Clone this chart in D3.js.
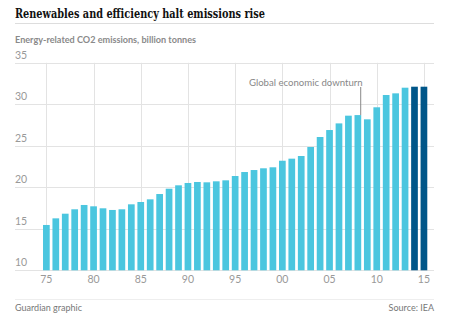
<!DOCTYPE html>
<html>
<head>
<meta charset="utf-8">
<script src="https://cdn.jsdelivr.net/npm/d3@7"></script>
<style>
  body { margin: 0; background: #fff; }
  svg { display: block; }
  .title { font-family: "DejaVu Serif", serif; font-weight: bold; font-size: 12.5px; fill: #111; }
  .sub { font-family: Lato, sans-serif; font-weight: bold; font-size: 9.6px; fill: #8a8a8a; }
  .tick-label { font-family: Lato, sans-serif; font-size: 10.5px; fill: #999; }
  .foot { font-family: Lato, sans-serif; font-size: 9px; fill: #777; }
  .note { font-family: Lato, sans-serif; font-size: 9.6px; fill: #888; }
</style>
</head>
<body>
<svg width="450" height="324"></svg>
<script>
(function() {

  var years = d3.range(1975, 2016);
  var emissions = [
    15.46, 16.26, 16.82, 17.35, 17.87, 17.71, 17.47, 17.27, 17.35, 17.95,
    18.23, 18.55, 19.19, 19.83, 20.24, 20.52, 20.64, 20.60, 20.72, 20.84,
    21.36, 21.84, 22.08, 22.29, 22.41, 23.20, 23.45, 23.77, 24.86, 26.06,
    26.90, 27.70, 28.63, 28.70, 28.19, 29.64, 31.12, 31.32, 32.00, 32.12,
    32.12
  ];
  var highlightYears = [2014, 2015];
  var yTicks = [10, 15, 20, 25, 30, 35];
  var xTicks = [1975, 1980, 1985, 1990, 1995, 2000, 2005, 2010, 2015];

  var data = years.map(function(y, i) { return {year: y, value: emissions[i]}; });

  var svg = d3.select('svg');
  var left = 15, right = 434;

  var x = d3.scaleBand()
      .domain(years)
      .range([41.6, 428.7])
      .paddingInner(0.29)
      .paddingOuter(0.15);

  var y = d3.scaleLinear()
      .domain([10, 35])
      .range([270.3, 62.8]);

  var cx = function(yr) { return x(yr) + x.bandwidth() / 2; };

  // title + rule
  svg.append('text').attr('class', 'title')
    .attr('x', left).attr('y', 17.5)
    .attr('textLength', 250)
    .attr('lengthAdjust', 'spacingAndGlyphs')
    .text('Renewables and efficiency halt emissions rise');
  svg.append('line')
    .attr('x1', left).attr('x2', right)
    .attr('y1', 23.5).attr('y2', 23.5)
    .attr('stroke', '#ddd');

  svg.append('text').attr('class', 'sub')
    .attr('x', left).attr('y', 43.3)
    .attr('textLength', 181)
    .attr('lengthAdjust', 'spacingAndGlyphs')
    .text('Energy-related CO2 emissions, billion tonnes');

  // horizontal grid
  svg.selectAll('.hgrid').data(yTicks)
    .enter().append('line')
    .attr('class', 'hgrid')
    .attr('x1', left).attr('x2', right)
    .attr('y1', function(d) { return Math.round(y(d)) + 0.5; })
    .attr('y2', function(d) { return Math.round(y(d)) + 0.5; })
    .attr('stroke', '#e3e3e3');

  // vertical grid through tick years
  svg.selectAll('.vgrid').data(xTicks)
    .enter().append('line')
    .attr('class', 'vgrid')
    .attr('x1', function(d) { return Math.round(cx(d)) + 0.5; })
    .attr('x2', function(d) { return Math.round(cx(d)) + 0.5; })
    .attr('y1', y(35)).attr('y2', y(10))
    .attr('stroke', '#e3e3e3');

  svg.selectAll('.ylab').data(yTicks)
    .enter().append('text')
    .attr('class', 'tick-label')
    .attr('x', left)
    .attr('y', function(d) { return y(d) - 4; })
    .text(function(d) { return d; });

  // bars
  svg.selectAll('.bar').data(data)
    .enter().append('rect')
    .attr('class', 'bar')
    .attr('x', function(d) { return x(d.year); })
    .attr('width', x.bandwidth())
    .attr('y', function(d) { return y(d.value); })
    .attr('height', function(d) { return y(10) - y(d.value); })
    .attr('fill', function(d) {
      return highlightYears.indexOf(d.year) >= 0 ? '#005689' : '#4bc6df';
    });

  svg.selectAll('.xlab').data(xTicks)
    .enter().append('text')
    .attr('class', 'tick-label')
    .attr('x', function(d) { return cx(d); })
    .attr('y', 283)
    .attr('text-anchor', 'middle')
    .text(function(d) { return String(d).slice(2); });

  // annotation on 2008
  var ann = data[years.indexOf(2008)];
  var ax = x(ann.year) + x.bandwidth() - 0.5;
  svg.append('line')
    .attr('x1', ax).attr('x2', ax)
    .attr('y1', 87).attr('y2', y(ann.value))
    .attr('stroke', '#888');
  svg.append('text').attr('class', 'note')
    .attr('x', ax + 2).attr('y', 85.5)
    .attr('text-anchor', 'end')
    .text('Global economic downturn');

  // footer
  svg.append('line')
    .attr('x1', left).attr('x2', right)
    .attr('y1', 299.5).attr('y2', 299.5)
    .attr('stroke', '#eee');
  svg.append('text').attr('class', 'foot')
    .attr('x', left).attr('y', 311)
    .text('Guardian graphic');
  svg.append('text').attr('class', 'foot')
    .attr('x', right).attr('y', 311)
    .attr('text-anchor', 'end')
    .text('Source: IEA');

})();
</script>
</body>
</html>
